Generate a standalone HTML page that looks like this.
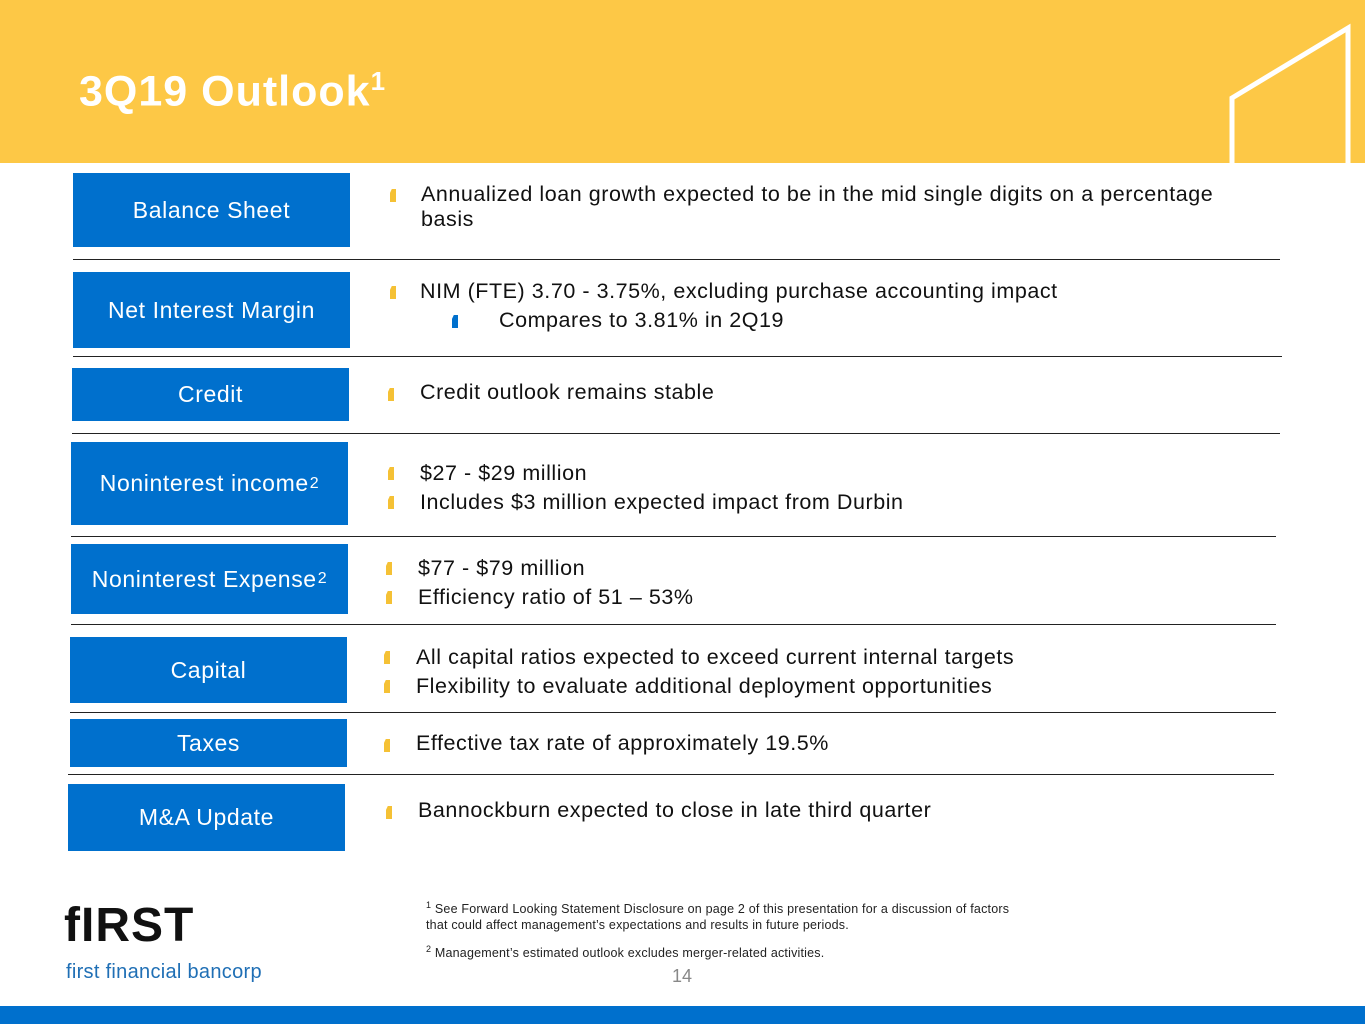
<!DOCTYPE html>
<html><head><meta charset="utf-8"><style>
body{margin:0;width:1365px;height:1024px;position:relative;background:#fff;font-family:"Liberation Sans",sans-serif;overflow:hidden}
.a{position:absolute}
.box{position:absolute;background:#0070cd;color:#fff;font-size:23px;letter-spacing:0.6px;display:flex;align-items:center;justify-content:center}
.box sup{font-size:16px;margin-left:1px}
.ln{position:absolute;height:1px;background:#222}
.t{position:absolute;font-size:21.5px;letter-spacing:0.55px;color:#111;white-space:nowrap}
.b{position:absolute;width:6px;height:13px;background:#f5c135;clip-path:polygon(30% 0,100% 0,100% 100%,0 100%,0 30%)}
.bb{background:#0070cd}
</style></head><body>
<div class="a" style="left:0;top:0;width:1365px;height:163px;background:#fdc846"></div>
<svg class="a" style="left:0;top:0" width="1365" height="170"><polyline points="1232,165 1232,98 1348,28 1348,165" fill="none" stroke="#fff" stroke-width="5"/></svg>
<div class="a" style="left:79px;top:66px;font-size:43px;font-weight:bold;color:#fff;letter-spacing:1px">3Q19 Outlook<sup style="font-size:26px">1</sup></div>

<div class="box" style="left:73px;top:173px;width:277px;height:74px">Balance Sheet</div>
<div class="b" style="left:390px;top:189px"></div>
<div class="t" style="left:421px;top:182px;line-height:25px">Annualized loan growth expected to be in the mid single digits on a percentage<br>basis</div>
<div class="ln" style="left:73px;top:259px;width:1207px"></div>

<div class="box" style="left:73px;top:272px;width:277px;height:76px">Net Interest Margin</div>
<div class="b" style="left:390px;top:286px"></div>
<div class="t" style="left:420px;top:279px">NIM (FTE) 3.70 - 3.75%, excluding purchase accounting impact</div>
<div class="b bb" style="left:452px;top:315px"></div>
<div class="t" style="left:499px;top:308px">Compares to 3.81% in 2Q19</div>
<div class="ln" style="left:73px;top:356px;width:1209px"></div>

<div class="box" style="left:72px;top:368px;width:277px;height:53px">Credit</div>
<div class="b" style="left:388px;top:388px"></div>
<div class="t" style="left:420px;top:380px">Credit outlook remains stable</div>
<div class="ln" style="left:72px;top:433px;width:1208px"></div>

<div class="box" style="left:71px;top:442px;width:277px;height:83px">Noninterest income<sup>2</sup></div>
<div class="b" style="left:388px;top:467px"></div>
<div class="t" style="left:420px;top:459px;line-height:29px">$27 - $29 million<br>Includes $3 million expected impact from Durbin</div>
<div class="b" style="left:388px;top:496px"></div>
<div class="ln" style="left:71px;top:536px;width:1205px"></div>

<div class="box" style="left:71px;top:544px;width:277px;height:70px">Noninterest Expense<sup>2</sup></div>
<div class="b" style="left:386px;top:562px"></div>
<div class="t" style="left:418px;top:554px;line-height:29px">$77 - $79 million<br>Efficiency ratio of 51 – 53%</div>
<div class="b" style="left:386px;top:591px"></div>
<div class="ln" style="left:71px;top:624px;width:1205px"></div>

<div class="box" style="left:70px;top:637px;width:277px;height:66px">Capital</div>
<div class="b" style="left:384px;top:651px"></div>
<div class="t" style="left:416px;top:643px;line-height:29px">All capital ratios expected to exceed current internal targets<br>Flexibility to evaluate additional deployment opportunities</div>
<div class="b" style="left:384px;top:680px"></div>
<div class="ln" style="left:70px;top:712px;width:1206px"></div>

<div class="box" style="left:70px;top:719px;width:277px;height:48px">Taxes</div>
<div class="b" style="left:384px;top:739px"></div>
<div class="t" style="left:416px;top:731px">Effective tax rate of approximately 19.5%</div>
<div class="ln" style="left:68px;top:774px;width:1206px"></div>

<div class="box" style="left:68px;top:784px;width:277px;height:67px">M&amp;A Update</div>
<div class="b" style="left:386px;top:806px"></div>
<div class="t" style="left:418px;top:798px">Bannockburn expected to close in late third quarter</div>

<div class="a" style="left:64px;top:898px;font-size:48px;font-weight:bold;color:#111;letter-spacing:1px">fIRST</div>
<div class="a" style="left:66px;top:961px;font-size:20px;color:#1f6fb5;letter-spacing:0.3px">first financial bancorp</div>
<div class="a" style="left:426px;top:897px;font-size:12.5px;color:#222;line-height:16px;letter-spacing:0.2px"><sup style="font-size:9px">1</sup> See Forward Looking Statement Disclosure on page 2 of this presentation for a discussion of factors<br>that could affect management’s expectations and results in future periods.</div>
<div class="a" style="left:426px;top:944px;font-size:12.5px;color:#222;letter-spacing:0.2px"><sup style="font-size:9px">2</sup> Management’s estimated outlook excludes merger-related activities.</div>
<div class="a" style="left:672px;top:966px;font-size:18px;color:#888">14</div>
<div class="a" style="left:0;top:1006px;width:1365px;height:18px;background:#0070cd"></div>
</body></html>
